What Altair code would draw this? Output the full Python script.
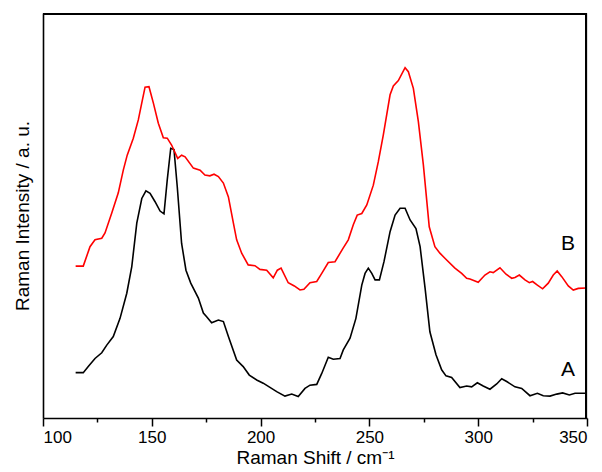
import altair as alt
import pandas as pd

# Spectrum A (black)
a_x = [115.0, 118.5, 120.8, 123.9, 127.0, 129.3, 132.3, 135.4, 138.5, 140.8, 143.1, 145.4, 147.3, 149.2,
       151.5, 153.8, 155.6, 157.1, 158.7, 160.2, 161.7, 163.7, 165.7, 167.9, 171.4, 173.7, 175.2, 177.5,
       180.6, 182.9, 185.2, 189.0, 192.0, 194.8, 198.2, 201.2, 207.4, 211.2, 214.3, 217.3, 220.4, 222.7,
       225.8, 228.1, 231.1, 233.4, 236.5, 238.0, 241.1, 243.8, 246.5, 248.0, 249.5, 251.1, 252.6, 254.6,
       256.7, 259.5, 261.8, 264.1, 266.4, 268.7, 271.4, 273.3, 275.6, 277.8, 280.6, 283.2, 285.2, 287.8,
       291.6, 294.7, 297.0, 299.6, 302.3, 305.4, 308.5, 310.8, 313.1, 316.9, 320.0, 323.8, 327.2, 329.9,
       333.0, 336.1, 338.8, 341.9, 344.5, 349.5]
a_y = [11.2, 11.2, 12.7, 14.7, 16.1, 18.0, 20.1, 24.6, 30.8, 37.4, 48.1, 54.2, 56.1, 55.5,
       53.4, 51.1, 50.4, 58.8, 66.6, 66.3, 57.1, 43.1, 36.5, 33.3, 29.6, 25.9, 25.0, 23.5,
       24.2, 23.8, 20.1, 14.3, 12.7, 10.6, 9.4, 8.6, 6.5, 5.4, 5.9, 5.3, 7.3, 8.1,
       8.3, 11.0, 15.0, 14.5, 14.7, 16.8, 19.7, 24.6, 32.8, 35.7, 37.0, 35.7, 34.1, 34.1,
       38.6, 46.0, 50.1, 51.8, 51.8, 48.9, 46.8, 42.3, 32.0, 21.3, 15.6, 11.9, 10.4, 10.0,
       7.5, 7.9, 7.7, 8.7, 7.9, 7.1, 8.4, 9.7, 9.0, 7.7, 7.3, 5.5, 6.1, 5.5,
       5.4, 5.9, 6.2, 5.7, 6.1, 6.1]

# Spectrum B (red)
b_x = [115.0, 118.5, 121.6, 123.9, 127.0, 128.5, 131.6, 134.6, 136.9, 138.7, 141.5, 143.8, 145.4, 146.9,
       148.7, 150.7, 153.0, 155.3, 157.1, 159.1, 161.9, 163.7, 165.3, 169.1, 172.2, 174.4, 176.7, 178.6,
       180.6, 182.9, 185.2, 187.5, 189.0, 191.3, 194.3, 197.4, 199.7, 202.8, 205.8, 207.7, 209.4, 212.7,
       215.5, 218.1, 219.9, 222.7, 225.8, 228.1, 231.1, 234.2, 238.0, 240.3, 242.6, 244.4, 246.5, 248.8,
       251.8, 254.1, 256.4, 259.5, 261.0, 263.3, 266.4, 267.9, 270.2, 272.5, 274.8, 277.5, 280.1, 282.4,
       285.5, 289.3, 292.4, 294.7, 296.2, 300.0, 303.1, 305.4, 306.9, 310.0, 312.8, 315.4, 316.9, 318.9,
       321.5, 323.5, 325.0, 327.2, 329.6, 332.2, 334.5, 336.3, 338.4, 341.4, 343.7, 346.0, 349.5]
b_y = [37.5, 37.5, 42.3, 44.0, 44.4, 45.7, 50.6, 55.6, 61.2, 64.9, 69.1, 73.6, 77.8, 81.7,
       81.8, 77.8, 72.8, 69.2, 69.1, 67.4, 64.1, 64.9, 64.5, 61.7, 61.2, 60.0, 59.8, 60.2,
       59.6, 58.0, 54.6, 48.1, 44.0, 40.7, 37.8, 37.6, 36.7, 36.5, 34.6, 36.5, 37.0, 33.4,
       32.6, 31.6, 31.8, 33.4, 33.7, 35.7, 38.4, 38.6, 42.0, 44.0, 47.7, 50.1, 50.5, 52.6,
       57.5, 63.3, 69.9, 79.8, 82.0, 83.3, 86.5, 85.5, 81.4, 73.2, 62.5, 47.2, 42.3, 40.7,
       39.0, 37.0, 35.7, 34.5, 34.3, 33.5, 35.3, 36.1, 35.9, 37.1, 35.5, 34.5, 34.7, 35.3,
       34.1, 33.4, 33.7, 32.8, 31.9, 33.3, 35.3, 36.3, 34.9, 32.6, 31.6, 32.0, 32.1]

label_text = ["A", "B"]
label_x = [341.3, 341.3]
label_y = [11.9, 43.0]

x_ticks = [100, 125, 150, 175, 200, 225, 250, 275, 300, 325, 350]

W, H = 544, 405

df = pd.concat([
    pd.DataFrame({"x": a_x, "y": a_y, "s": "A"}),
    pd.DataFrame({"x": b_x, "y": b_y, "s": "B"}),
])
lab = pd.DataFrame({"x": label_x, "y": label_y, "t": label_text})

FONT = "Liberation Sans"

xscale = alt.Scale(domain=[100, 350], nice=False)
yscale = alt.Scale(domain=[0, 100], nice=False)

xaxis = alt.Axis(
    values=x_ticks,
    title="Raman Shift / cm⁻¹",
    labelExpr="datum.value % 50 === 0 ? datum.label : ''",
    tickSize={"condition": {"test": "datum.value % 50 === 0", "value": 8}, "value": 4},
    grid=False, domainColor="black", tickColor="black", domainWidth=1.6, tickWidth=1.5,
    labelFont=FONT, labelFontSize=17, labelColor="black", labelPadding=3,
    titleFont=FONT, titleFontSize=19, titleFontWeight="normal", titleColor="black", titlePadding=3,
)
yaxis = alt.Axis(
    title="Raman Intensity / a. u.", labels=False, ticks=False, tickSize=0, grid=False,
    domain=True, domainColor="black", domainWidth=1.6,
    titleFont=FONT, titleFontSize=19, titleFontWeight="normal",
    titleColor="black", titlePadding=11,
)

lines = alt.Chart(df).mark_line(strokeWidth=1.6).encode(
    x=alt.X("x:Q", scale=xscale, axis=xaxis),
    y=alt.Y("y:Q", scale=yscale, axis=yaxis),
    color=alt.Color("s:N", scale=alt.Scale(domain=["A", "B"], range=["black", "#ff0000"]), legend=None),
    order="x:Q",
)

texts = alt.Chart(lab).mark_text(font=FONT, fontSize=21, color="black").encode(
    x=alt.X("x:Q", scale=xscale),
    y=alt.Y("y:Q", scale=yscale),
    text="t:N",
)

# plot-box frame: top and right edges
frame_top = alt.Chart(lab).mark_rule(color="black", strokeWidth=2).encode(
    x=alt.value(0), x2=alt.value(W), y=alt.value(1)
)
frame_right = alt.Chart(lab).mark_rule(color="black", strokeWidth=2).encode(
    x=alt.value(W - 1), y=alt.value(0), y2=alt.value(H)
)

chart = alt.layer(lines, texts, frame_top, frame_right).properties(
    width=W, height=H,
    autosize=alt.AutoSizeParams(type="none"),
    padding={"left": 35, "top": 5, "right": 7, "bottom": 50},
).configure_view(stroke="black", strokeWidth=1.6, fill="white").configure(background="white")

chart.save("out.html", embed_options={"renderer": "svg", "actions": False})
